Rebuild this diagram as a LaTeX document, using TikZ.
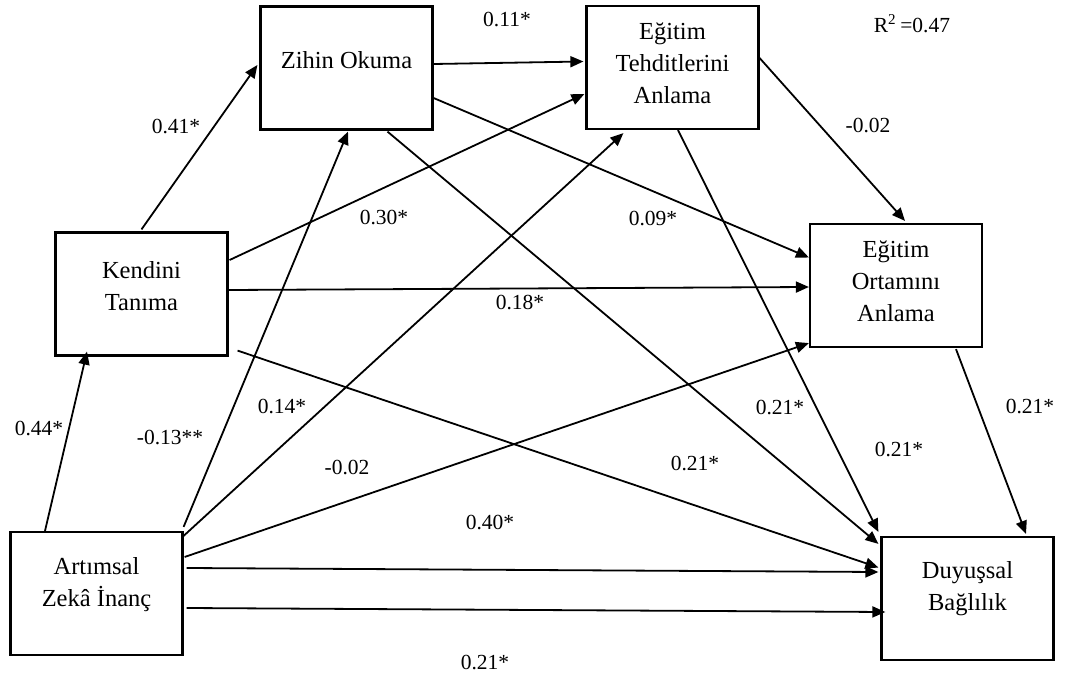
\documentclass[tikz,border=0pt]{standalone}
\usepackage{fontspec}
\setmainfont{Liberation Serif}
\usetikzlibrary{calc,arrows.meta}
\begin{document}
\begin{tikzpicture}[x=0.5pt,y=-0.5pt,
  box/.style={draw,line width=1.1pt,minimum width=86pt,minimum height=61.5pt,inner sep=0pt},
  boxtext/.style={align=center,font=\fontsize{12.25}{16}\selectfont,inner sep=0pt},
  coef/.style={font=\fontsize{10.75}{13}\selectfont,inner sep=1pt},
  link/.style={line width=0.9pt,-{Triangle[length=6.5pt,width=5.5pt]}}]
\useasboundingbox (0,0) rectangle (1084,680);

% variables
\node[box] (zo) at (346.5,68) {};
\node[box] (et) at (672.5,67.5) {};
\node[box] (kt) at (141.5,294) {};
\node[box] (eo) at (896,285.5) {};
\node[box] (az) at (96.5,593.5) {};
\node[box] (db) at (967.5,598.5) {};

\node[boxtext] (zot) at (346.5,60) {Zihin Okuma};
\node[boxtext] (ett) at (672.5,63.5) {Eğitim\\Tehditlerini\\Anlama};
\node[boxtext] (ktt) at (141.5,286) {Kendini\\Tanıma};
\node[boxtext] (eot) at (896,281.5) {Eğitim\\Ortamını\\Anlama};
\node[boxtext] (azt) at (96.5,585) {Artımsal\\Zekâ İnanç};
\node[boxtext] (dbt) at (967.5,589) {Duyuşsal\\Bağlılık};

% paths
\draw[link] ($(kt.north)+(0,-2)$) -- ($(zo.west)+(-2,-3)$);
\draw[link] ($(zo.east)+(0,-4)$) -- ($(et.west)+(-2,-6)$);
\draw[link] ($(zo.east)+(0,30)$) -- ($(eo.west)+(0,-28)$);
\draw[link] ($(zo.south)+(41,1)$) -- ($(db.north west)+(-2,8)$);
\draw[link] ($(kt.east)+(1,-34)$) -- ($(et.west)+(-1,26.5)$);
\draw[link] ($(kt.east)+(0,-4)$) -- ($(eo.west)+(0,1.5)$);
\draw[link] ($(kt.south east)+(9,-6)$) -- ($(db.west)+(-2,-31)$);
\draw[link] ($(et.east)+(0,-9.5)$) -- ($(eo.north)+(9,-2)$);
\draw[link] ($(et.south)+(5.5,0)$) -- ($(db.north west)+(-2,-4)$);
\draw[link] ($(eo.south)+(60,1)$) -- ($(db.north)+(58.5,-2)$);
\draw[link] ($(az.north)+(-51.5,0)$) -- ($(kt.south)+(-54.5,-5)$);
\draw[link] ($(az.north east)+(0,-4)$) -- ($(zo.south)+(1.5,1)$);
\draw[link] ($(az.north east)+(0,5)$) -- ($(et.south west)+(38,3)$);
\draw[link] ($(az.east)+(1,-36.5)$) -- ($(eo.south west)+(0,-5)$);
\draw[link] ($(az.east)+(3,-25.5)$) -- ($(db.west)+(-2,-26.5)$);
\draw[link] ($(az.east)+(3,14.5)$) -- ($(db.west)+(5,13.5)$);

% coefficients
\node[coef] (c1) at (176,127) {0.41*};
\node[coef] (c2) at (507,20) {0.11*};
\node[coef] (c3) at (653,219) {0.09*};
\node[coef] (c4) at (384,218) {0.30*};
\node[coef] (c5) at (520,303) {0.18*};
\node[coef] (c6) at (695,464) {0.21*};
\node[coef] (c7) at (868,126) {-0.02};
\node[coef] (c8) at (1030,407) {0.21*};
\node[coef] (c9) at (39,429) {0.44*};
\node[coef] (c10) at (170,438) {-0.13**};
\node[coef] (c11) at (282,407) {0.14*};
\node[coef] (c12) at (347,468) {-0.02};
\node[coef] (c13) at (490,523) {0.40*};
\node[coef] (c14) at (485,663) {0.21*};
\node[coef] (c15) at (780,408) {0.21*};
\node[coef] (c16) at (899,450) {0.21*};
\node[coef] (r2) at (912,24) {R\textsuperscript{2}\,=0.47};
\end{tikzpicture}
\end{document}
